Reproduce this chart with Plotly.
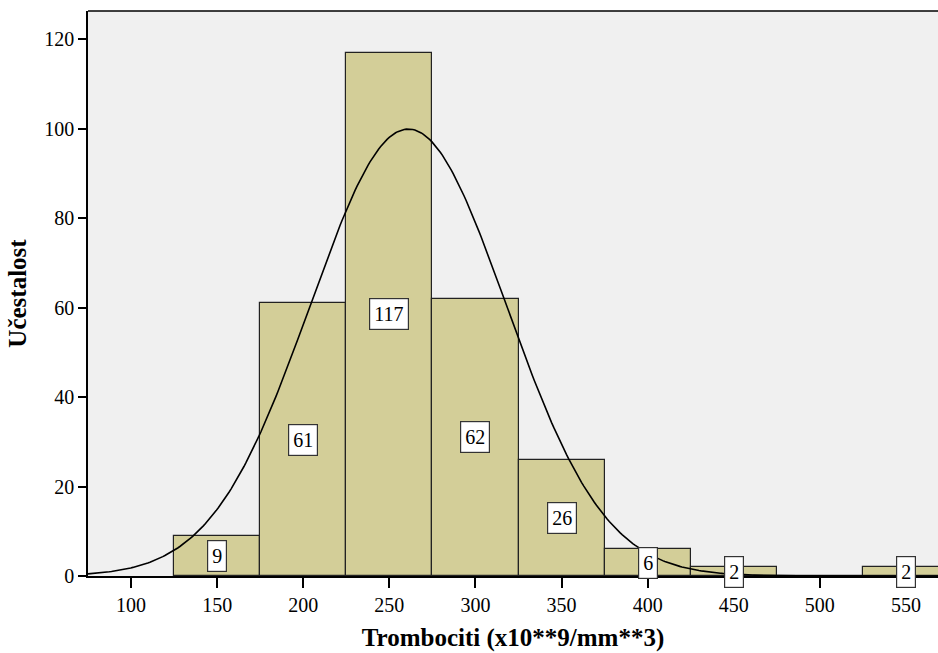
import numpy as np
import plotly.graph_objects as go

# Data
bin_centers = [150, 200, 250, 300, 350, 400, 450, 500, 550]
counts = [9, 61, 117, 62, 26, 6, 2, 0, 2]
bin_width = 50
x_ticks = [100, 150, 200, 250, 300, 350, 400, 450, 500, 550]
y_ticks = [0, 20, 40, 60, 80, 100, 120]
fit_mean = 261.0
fit_sd = 56.9

n_total = sum(counts)
xs = np.linspace(75, 570, 400)
ys = n_total * bin_width / (fit_sd * np.sqrt(2 * np.pi)) * np.exp(-0.5 * ((xs - fit_mean) / fit_sd) ** 2)

font_family = "Liberation Serif, Times New Roman, serif"

fig = go.Figure()
fig.add_trace(go.Bar(
    x=bin_centers, y=counts, width=bin_width,
    marker=dict(color="#d3ce98", line=dict(color="#222222", width=1.2)),
    hoverinfo="x+y", showlegend=False,
))
fig.add_trace(go.Scatter(
    x=xs, y=ys, mode="lines", line=dict(color="black", width=1.6),
    hoverinfo="skip", showlegend=False,
))

for c, v in zip(bin_centers, counts):
    if v > 0:
        fig.add_annotation(
            x=c, y=v / 2, text=str(v), showarrow=False,
            font=dict(family=font_family, size=20, color="black"),
            bgcolor="white", bordercolor="#333333", borderwidth=1.2, borderpad=4,
        )

fig.update_layout(
    width=938, height=653,
    margin=dict(l=88, r=0, t=11, b=77),
    paper_bgcolor="white", plot_bgcolor="#f0f0f0",
    font=dict(family=font_family, size=20, color="black"),
    bargap=0,
    xaxis=dict(
        range=[75, 568.6], tickvals=x_ticks, ticks="outside", ticklen=10,
        tickwidth=1.5, tickcolor="black", showgrid=False, zeroline=False,
        showline=True, linecolor="black", linewidth=1.5, mirror=False,
        title=dict(text="<b>Trombociti (x10**9/mm**3)</b>", font=dict(size=25), standoff=14),
        tickfont=dict(size=20),
    ),
    yaxis=dict(
        range=[0, 126.3], tickvals=y_ticks, ticks="outside", ticklen=8,
        tickwidth=1.5, tickcolor="black", showgrid=False, zeroline=False,
        showline=True, linecolor="black", linewidth=1.5,
        title=dict(text="<b>Učestalost</b>", font=dict(size=25), standoff=11),
        tickfont=dict(size=20),
    ),
)
fig.add_shape(type="line", xref="paper", yref="paper", x0=0, x1=1, y0=1, y1=1,
              line=dict(color="black", width=1.5))

fig.write_html("out.html", config={"displayModeBar": False},
               post_script="document.body.style.margin='0';document.body.style.overflow='hidden';")
